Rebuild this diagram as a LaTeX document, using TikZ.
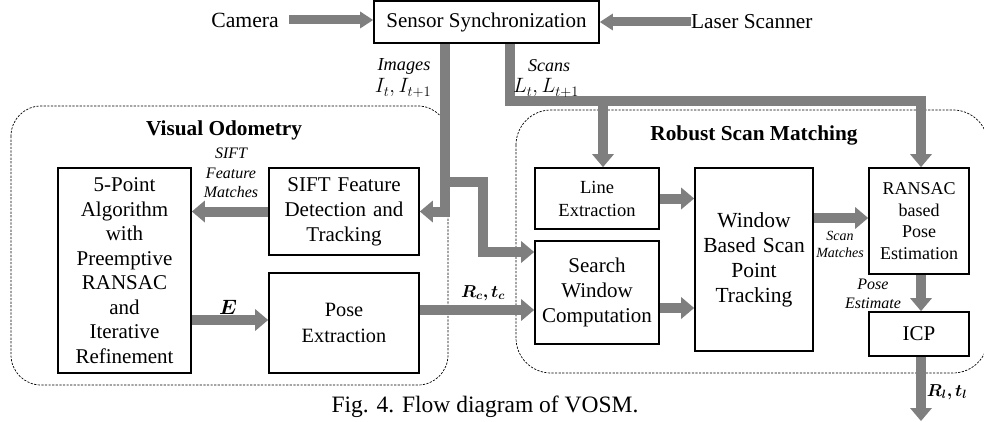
\documentclass[tikz,border=0pt]{standalone}
\usepackage{fontspec}
\setmainfont{Liberation Serif}
\usepackage{bm}
\usetikzlibrary{arrows.meta,calc}
\definecolor{arrgray}{HTML}{7F7F7F}
\newcommand{\myfs}[2]{\fontsize{#1}{#2}\selectfont}
\tikzset{
  box/.style={draw=black, line width=1.8pt, fill=white, align=center, inner sep=2pt, font=\myfs{21}{25}},
  garrow/.style={draw=arrgray, line width=10pt, -{Triangle[width=22pt,length=13pt,line width=0pt]}},
  inarrow/.style={draw=arrgray, line width=9pt, -{Triangle[width=17pt,length=13pt,line width=0pt]}},
  group/.style={draw=black, line width=0.7pt, dash pattern=on 2.2pt off 1.4pt, rounded corners=30pt},
  title/.style={font=\myfs{21.3}{24}\bfseries},
  lab/.style={font=\myfs{20}{20}, inner sep=0pt},
  mathlab/.style={font=\myfs{17}{17}, inner sep=0pt},
  smalllab/.style={font=\myfs{16}{19.5}\itshape, align=center, inner sep=0pt},
}
\begin{document}
\begin{tikzpicture}[x=1pt,y=-1pt]
\useasboundingbox (0,0) rectangle (984,422);
% groups
\draw[group] (11,106) rectangle (448,385);
\node[title] (votitle) at (224,130) {Visual Odometry};
\draw[group, rounded corners=35pt] (516,110) rectangle (988,373);
\node[title] (rsmtitle) at (754,135) {Robust Scan Matching};
% top
\node[box, minimum width=225pt, minimum height=42pt] (sync) at (486.5,22) {Sensor Synchronization};
\node[lab, font=\myfs{21.7}{21.7}, anchor=east] (camera) at (279,20) {Camera};
\node[lab, font=\myfs{21.3}{21.3}, anchor=west] (laser) at (691,22) {Laser Scanner};
\draw[inarrow] ([xshift=10pt]camera.east) -- (camera.east -| sync.west);
\draw[inarrow] (laser.west) -- (laser.west -| sync.east);
% visual odometry boxes
\node[box, font=\myfs{21}{24.5}, minimum width=133pt, minimum height=205pt, text width=128pt] (fivept) at (124.5,270.5)
  {5-Point\\Algorithm\\with\\Preemptive\\RANSAC\\and\\Iterative\\Refinement};
\node[box, minimum width=150pt, minimum height=87pt, text width=145pt] (sift) at (344,211.5)
  {SIFT Feature\\Detection and\\Tracking};
\node[box, font=\myfs{20.3}{26}, minimum width=150pt, minimum height=100pt, text width=145pt] (pose) at (344,323)
  {Pose\\Extraction};
% scan matching boxes
\node[box, font=\myfs{18.5}{23}, minimum width=124pt, minimum height=61pt, text width=118pt] (line) at (597,198.5)
  {Line\\Extraction};
\node[box, minimum width=124pt, minimum height=103pt, text width=120pt] (search) at (597,292.5)
  {Search\\Window\\Computation};
\node[box, font=\myfs{21.5}{25}, minimum width=118pt, minimum height=183pt, text width=114pt] (wbspt) at (754,259.5)
  {Window\\Based Scan\\Point\\Tracking};
\node[box, font=\myfs{18}{21.5}, minimum width=100pt, minimum height=106pt, text width=96pt] (ransac) at (919,221)
  {RANSAC\\based\\Pose\\Estimation};
\node[box, minimum width=100pt, minimum height=44pt, text width=96pt] (icp) at (919,334) {ICP};
% coordinates for bends
\coordinate (imgsplit) at (445,182);
\coordinate (imgjog) at (483,182);
\coordinate (scanbus) at (700,101);
\coordinate (linetap) at (603,101);
\coordinate (out) at (919,421);
% image stream
\draw[garrow] ([xshift=-41.5pt]sync.south) |- (sift.east);
\draw[garrow] (imgsplit) -- (imgjog) |- ([yshift=40.5pt]search.west);
% scan stream
\draw[garrow] ([xshift=23.5pt]sync.south) |- (scanbus) -| ([xshift=2pt]ransac.north);
\draw[garrow] (linetap) -- ([xshift=6pt]line.north);
% VO internal
\draw[garrow] (sift.west) -- (sift.west -| fivept.east);
\draw[garrow] ([yshift=3pt]pose.west -| fivept.east) -- ([yshift=3pt]pose.west);
\draw[garrow] ([yshift=13pt]pose.east) -- ([yshift=13pt]pose.east -| search.west);
% RSM internal
\draw[garrow] (line.east) -- (line.east -| wbspt.west);
\draw[garrow] ([yshift=-15.5pt]search.east) -- ([yshift=-15.5pt]search.east -| wbspt.west);
\draw[garrow] ([yshift=3pt]ransac.west -| wbspt.east) -- ([yshift=3pt]ransac.west);
\draw[garrow] ([xshift=2pt]ransac.south) -- ([xshift=2pt]icp.north);
\draw[garrow] ([xshift=2pt]icp.south) -- ([xshift=2pt]out);
% labels
\node[lab, font=\myfs{18.3}{18.3}\itshape] (imglab) at (404,66) {Images};
\node[lab] (imgmath) at (403,88) {$I_t, I_{t+1}$};
\node[lab, font=\myfs{18}{18}\itshape] (scanlab) at (549,66) {Scans};
\node[lab] (scanmath) at (546,88) {$L_t, L_{t+1}$};
\node[smalllab] (siftlab) at (231,173) {SIFT\\Feature\\Matches};
\node[smalllab, font=\myfs{14}{17}\itshape] (smlab) at (840,244) {Scan\\Matches};
\node[smalllab, font=\myfs{16}{18.5}\itshape] (pelab) at (873,294) {Pose\\Estimate};
\node[lab] (elab) at (228,307) {$\bm{E}$};
\node[mathlab] (rclab) at (483,293) {$\bm{R_c, t_c}$};
\node[mathlab] (rllab) at (947,392) {$\bm{R_l, t_l}$};
\node[lab, font=\myfs{23.5}{23.5}] (caption) at (485,407) {Fig. 4. Flow diagram of VOSM.};
\end{tikzpicture}
\end{document}
